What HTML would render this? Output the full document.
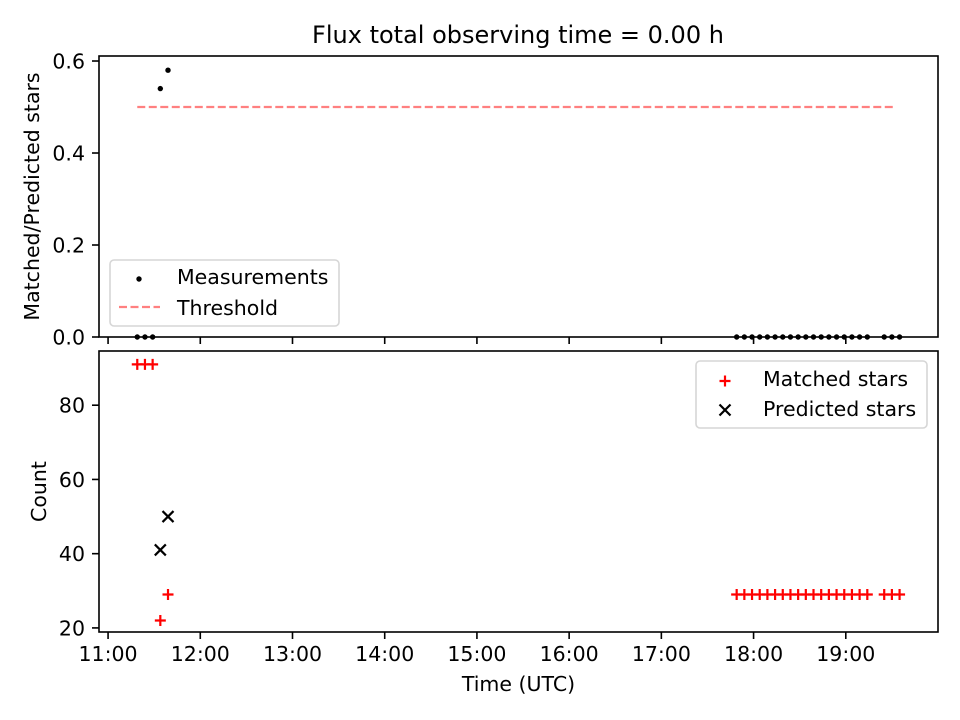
<!DOCTYPE html>
<html><head><meta charset="utf-8"><style>
body{margin:0;background:#fff;}
svg{display:block;font-family:"DejaVu Sans","Liberation Sans",sans-serif;}
</style></head><body>
<svg id="chart" width="960" height="720" viewBox="0 0 960 720" xmlns="http://www.w3.org/2000/svg">
<rect width="960" height="720" fill="#fff"/>
<text x="518" y="43" font-size="24" text-anchor="middle">Flux total observing time = 0.00 h</text>
<g id="top"></g>
<g id="bot"></g>
</svg>
<script>
// minutes after 11:00 UTC
const times = [19,24,29,34,39,409,414,419,424,429,434,439,444,449,454,459,464,469,474,479,484,489,494,505,510,515];
const ratio = [0,0,0,0.54,0.58,0,0,0,0,0,0,0,0,0,0,0,0,0,0,0,0,0,0,0,0,0];
const matched = [91,91,91,22,29,29,29,29,29,29,29,29,29,29,29,29,29,29,29,29,29,29,29,29,29,29];
const predicted = [null,null,null,41,50,null,null,null,null,null,null,null,null,null,null,null,null,null,null,null,null,null,null,null,null,null];
const threshold = 0.5;
const xTickLabels = ["11:00","12:00","13:00","14:00","15:00","16:00","17:00","18:00","19:00"];
const topTicks = [0.0,0.2,0.4,0.6];
const botTicks = [20,40,60,80];

const NS="http://www.w3.org/2000/svg";
const L=99,R=938;
const xmin=-5.9,xmax=540;
const X=m=>L+(m-xmin)/(xmax-xmin)*(R-L);
const T={top:56,bot:337,min:0,max:0.6109};
const B={top:351,bot:632,min:18.9,max:94.6};
const Yt=v=>T.bot-(v-T.min)/(T.max-T.min)*(T.bot-T.top);
const Yb=v=>B.bot-(v-B.min)/(B.max-B.min)*(B.bot-B.top);
const FS=20.5, TK=7;
function mk(p,tag,a,txt){const e=document.createElementNS(NS,tag);for(const k in a)e.setAttribute(k,a[k]);if(txt!==undefined)e.textContent=txt;p.appendChild(e);return e;}
const gt=document.getElementById('top'),gb=document.getElementById('bot');

let th=mk(gt,'line',{x1:X(times[0]),x2:X(times[times.length-1])-4,y1:Yt(threshold),y2:Yt(threshold),stroke:'#ff8080','stroke-width':2.2,'stroke-dasharray':'8,3.5'});


ratio.forEach((v,i)=>{const c=mk(gt,'circle',{cx:X(times[i]),cy:Yt(v),r:2.7,fill:'#000'});

});
matched.forEach((v,i)=>{const x=X(times[i]),y=Yb(v);const p=mk(gb,'path',{d:`M${x-5.5},${y}H${x+5.5}M${x},${y-5.5}V${y+5.5}`,stroke:'#f00','stroke-width':2.2,fill:'none'});

});
predicted.forEach((v,i)=>{if(v==null)return;const x=X(times[i]),y=Yb(v);const p=mk(gb,'path',{d:`M${x-5.5},${y-5.5}L${x+5.5},${y+5.5}M${x-5.5},${y+5.5}L${x+5.5},${y-5.5}`,stroke:'#000','stroke-width':2.2,fill:'none'});

});

[[gt,T],[gb,B]].forEach(([g,A])=>{const r=mk(g,'rect',{x:L,y:A.top,width:R-L,height:A.bot-A.top,fill:'none',stroke:'#000','stroke-width':1.6});

});
xTickLabels.forEach((s,i)=>{const x=X(i*60);
[[gt,T.bot],[gb,B.bot]].forEach(([g,y])=>{const t=mk(g,'line',{x1:x,x2:x,y1:y,y2:y+TK,stroke:'#000','stroke-width':1.6});

});
const tl=mk(gb,'text',{x:x,y:B.bot+29,'font-size':FS,'text-anchor':'middle'},s);

});
topTicks.forEach(v=>{const y=Yt(v);const t=mk(gt,'line',{x1:L-TK,x2:L,y1:y,y2:y,stroke:'#000','stroke-width':1.6});


const tl=mk(gt,'text',{x:L-14,y:y+7.5,'font-size':FS,'text-anchor':'end'},v.toFixed(1));

});
botTicks.forEach(v=>{const y=Yb(v);const t=mk(gb,'line',{x1:L-TK,x2:L,y1:y,y2:y,stroke:'#000','stroke-width':1.6});


const tl=mk(gb,'text',{x:L-14,y:y+7.5,'font-size':FS,'text-anchor':'end'},String(v));

});
let a1=mk(gt,'text',{x:0,y:0,'font-size':FS,'text-anchor':'middle',transform:`translate(39,${(T.top+T.bot)/2}) rotate(-90)`},'Matched/Predicted stars');


let a2=mk(gb,'text',{x:0,y:0,'font-size':FS,'text-anchor':'middle',transform:`translate(46,${(B.top+B.bot)/2}) rotate(-90)`},'Count');


let a3=mk(gb,'text',{x:(L+R)/2,y:691,'font-size':FS,'text-anchor':'middle'},'Time (UTC)');



let lg1=mk(gt,'g',{});


mk(lg1,'rect',{x:110,y:260,width:229,height:66,rx:4,fill:'#fff','fill-opacity':0.8,stroke:'#d6d6d6','stroke-width':1.6});
mk(lg1,'circle',{cx:139,cy:279,r:2.7,fill:'#000'});
let t1=mk(lg1,'text',{x:177,y:284,'font-size':FS},'Measurements');


mk(lg1,'line',{x1:119,x2:160,y1:307,y2:307,stroke:'#ff8080','stroke-width':2.2,'stroke-dasharray':'8,3.5'});
let t2=mk(lg1,'text',{x:177,y:315,'font-size':FS},'Threshold');



let lg2=mk(gb,'g',{});


mk(lg2,'rect',{x:696,y:361,width:231,height:67,rx:4,fill:'#fff','fill-opacity':0.8,stroke:'#d6d6d6','stroke-width':1.6});
mk(lg2,'path',{d:'M719.5,381H730.5M725,375.5V386.5',stroke:'#f00','stroke-width':2.2});
let t3=mk(lg2,'text',{x:763,y:386,'font-size':FS},'Matched stars');


mk(lg2,'path',{d:'M719.5,404.5L730.5,415.5M719.5,415.5L730.5,404.5',stroke:'#000','stroke-width':2.2});
let t4=mk(lg2,'text',{x:763,y:416,'font-size':FS},'Predicted stars');


</script>
</body></html>
